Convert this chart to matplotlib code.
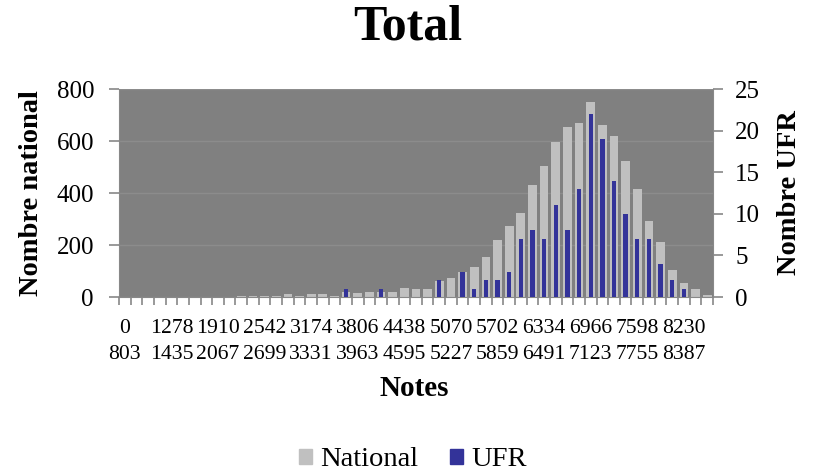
import matplotlib.pyplot as plt
import numpy as np
from matplotlib.patches import Patch

# national counts per grade bin (51 bins)
national = [0, 0, 0, 0, 0, 0, 0, 0, 0, 0,
            2, 2, 5, 4, 10, 5, 10, 13, 4, 18,
            15, 18, 20, 18, 35, 30, 30, 62, 73, 96,
            117, 153, 219, 272, 323, 432, 503, 596, 653, 668,
            751, 663, 621, 523, 417, 292, 210, 103, 53, 31,
            8]
ufr = [0, 0, 0, 0, 0, 0, 0, 0, 0, 0,
       0, 0, 0, 0, 0, 0, 0, 0, 0, 1,
       0, 0, 1, 0, 0, 0, 0, 2, 0, 3,
       1, 2, 2, 3, 7, 8, 7, 11, 8, 13,
       22, 19, 14, 10, 7, 7, 4, 2, 1, 0,
       0]
# labels shown every 4th bin
label_idx = [0, 4, 8, 12, 16, 20, 24, 28, 32, 36, 40, 44, 48]
label_text = ["0\n803", "1278\n1435", "1910\n2067", "2542\n2699", "3174\n3331",
              "3806\n3963", "4438\n4595", "5070\n5227", "5702\n5859", "6334\n6491",
              "6966\n7123", "7598\n7755", "8230\n8387"]

plt.rcParams['font.family'] = ['Liberation Serif', 'DejaVu Serif']

fig = plt.figure(figsize=(8.13, 4.75), dpi=100)
ax = fig.add_axes([119 / 813, 1 - 297 / 475, 594 / 813, 208 / 475])
ax.set_facecolor('#808080')

x = np.arange(len(national))
ax.bar(x, national, width=0.75, color='#C0C0C0', zorder=2)
ax.set_xlim(-0.5, len(national) - 0.5)
ax.set_ylim(0, 800)
ax.set_yticks([0, 200, 400, 600, 800])
ax.grid(axis='y', color='#8c8c8c', linewidth=1, zorder=1)
ax.set_axisbelow(True)

ax2 = ax.twinx()
ax2.bar(x, ufr, width=0.37, color='#333399', zorder=3)
ax2.set_ylim(0, 25)
ax2.set_yticks([0, 5, 10, 15, 20, 25])

ax.set_xticks(np.arange(-0.5, len(national), 1), minor=True)
ax.set_xticks(label_idx)
ax.set_xticklabels(label_text, linespacing=1.45)
ax.tick_params(axis='x', which='major', length=0, labelsize=15.6, pad=16)
ax.tick_params(axis='x', which='minor', length=6, color='#888888', width=1.2)
ax.tick_params(axis='y', length=7, color='#888888', width=1.2, labelsize=18, pad=11)
ax2.tick_params(axis='y', length=7, color='#888888', width=1.2, labelsize=18, pad=9)

for a in (ax, ax2):
    for s in a.spines.values():
        s.set_visible(False)
ax.spines['left'].set_visible(True)
ax.spines['left'].set_color('#888888')
ax.spines['bottom'].set_visible(True)
ax.spines['bottom'].set_color('#888888')
ax2.spines['right'].set_visible(True)
ax2.spines['right'].set_color('#888888')

fig.text(0.502, 1 - 40 / 475, "Total", ha='center', va='baseline',
         fontsize=36, fontweight='bold')
fig.text(31 / 813, 1 - 193 / 475, "Nombre national", rotation=90,
         ha='center', va='center', fontsize=20.5, fontweight='bold')
fig.text(789 / 813, 1 - 193 / 475, "Nombre UFR", rotation=90,
         ha='center', va='center', fontsize=20.5, fontweight='bold')
fig.text(0.51, 1 - 389 / 475, "Notes", ha='center', va='center',
         fontsize=21, fontweight='bold')

handles = [Patch(color='#C0C0C0', label='National'),
           Patch(color='#333399', label='UFR')]
fig.legend(handles=handles, loc='center', bbox_to_anchor=(0.508, 1 - 460 / 475),
           ncol=2, frameon=False, fontsize=20.5, handlelength=0.45,
           handleheight=0.45, handletextpad=0.3, columnspacing=1.1)

fig.savefig('out.png', dpi=100)
